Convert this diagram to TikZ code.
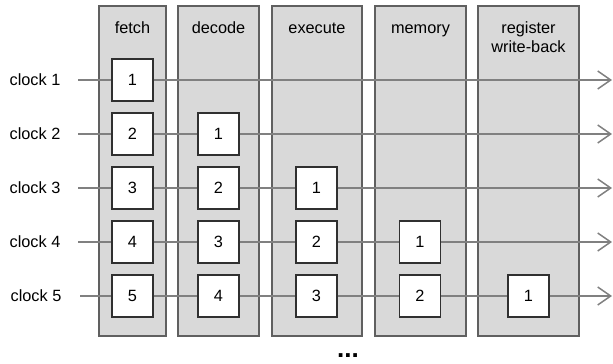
\documentclass[tikz,border=0pt]{standalone}
\usepackage{fontspec}
\setmainfont{Liberation Sans}
\usepackage{xcolor}
\usetikzlibrary{positioning,arrows.meta}

\definecolor{stagefill}{HTML}{D9D9D9}
\definecolor{stageline}{HTML}{606060}
\definecolor{wireline}{HTML}{808080}
\definecolor{boxline}{HTML}{303030}

\begin{document}
\begin{tikzpicture}[
  x=1pt, y=-1pt,
  font=\fontsize{16.3}{19}\selectfont,
  stage/.style={draw=stageline, fill=stagefill, line width=1.2pt, rectangle, minimum height=330pt},
  head/.style={anchor=base, align=center, inner sep=0pt},
  clk/.style={inner sep=0pt},
  slot/.style={draw=boxline, fill=white, line width=1.2pt, rectangle, minimum width=41pt, minimum height=42pt, inner sep=0pt},
  wire/.style={draw=wireline, line width=1.5pt},
  >={Straight Barb[length=13pt,width=18pt]}
]
\useasboundingbox (0,0) rectangle (613,364);

% pipeline stages
\node[stage, minimum width=67pt] (fetch) at (132.5,171) {};
\node[stage, minimum width=81pt] (decode) at (218.5,171) {};
\node[stage, minimum width=90pt] (execute) at (317,171) {};
\node[stage, minimum width=91pt] (memory) at (420.5,171) {};
\node[stage, minimum width=101pt] (wb) at (528.5,171) {};

\node[head] (hfetch) at (132.5,33) {fetch};
\node[head] (hdecode) at (218.5,33) {decode};
\node[head] (hexecute) at (317,33) {execute};
\node[head] (hmemory) at (420.5,33) {memory};
\node[head] (hwb) at (528.5,52) {register\\write-back};

% clock labels
\node[clk] (clk1) at (35,80) {clock 1};
\node[clk] (clk2) at (35,134) {clock 2};
\node[clk] (clk3) at (35,188) {clock 3};
\node[clk] (clk4) at (35,242) {clock 4};
\node[clk] (clk5) at (36,296) {clock 5};

\coordinate (s1) at (78,80);
\coordinate (s2) at (78,134);
\coordinate (s3) at (78,188);
\coordinate (s4) at (78,242);
\coordinate (s5) at (80,296);
\coordinate (e1) at (612,80);
\coordinate (e2) at (612,134);
\coordinate (e3) at (612,188);
\coordinate (e4) at (612,242);
\coordinate (e5) at (612,296);

% instructions in flight
\node[slot] (f1) at (132.5,80) {1};
\node[slot] (f2) at (132.5,134) {2};
\node[slot] (f3) at (132.5,188) {3};
\node[slot] (f4) at (132.5,242) {4};
\node[slot] (f5) at (132.5,296) {5};
\node[slot] (d2) at (218.5,134) {1};
\node[slot] (d3) at (218.5,188) {2};
\node[slot] (d4) at (218.5,242) {3};
\node[slot] (d5) at (218.5,296) {4};
\node[slot] (x3) at (316.5,188) {1};
\node[slot] (x4) at (316.5,242) {2};
\node[slot] (x5) at (316.5,296) {3};
\node[slot] (m4) at (420,242) {1};
\node[slot] (m5) at (420,296) {2};
\node[slot] (w5) at (528.5,296) {1};

\draw[wire] (s1) -- (f1);
\draw[wire, ->] (f1) -- (e1);
\draw[wire] (s2) -- (f2);
\draw[wire] (f2) -- (d2);
\draw[wire, ->] (d2) -- (e2);
\draw[wire] (s3) -- (f3);
\draw[wire] (f3) -- (d3);
\draw[wire] (d3) -- (x3);
\draw[wire, ->] (x3) -- (e3);
\draw[wire] (s4) -- (f4);
\draw[wire] (f4) -- (d4);
\draw[wire] (d4) -- (x4);
\draw[wire] (x4) -- (m4);
\draw[wire, ->] (m4) -- (e4);
\draw[wire] (s5) -- (f5);
\draw[wire] (f5) -- (d5);
\draw[wire] (d5) -- (x5);
\draw[wire] (x5) -- (m5);
\draw[wire] (m5) -- (w5);
\draw[wire, ->] (w5) -- (e5);

\node[font=\fontsize{26}{26}\bfseries\selectfont, inner sep=0pt] (more) at (348,356) {...};
\end{tikzpicture}
\end{document}
